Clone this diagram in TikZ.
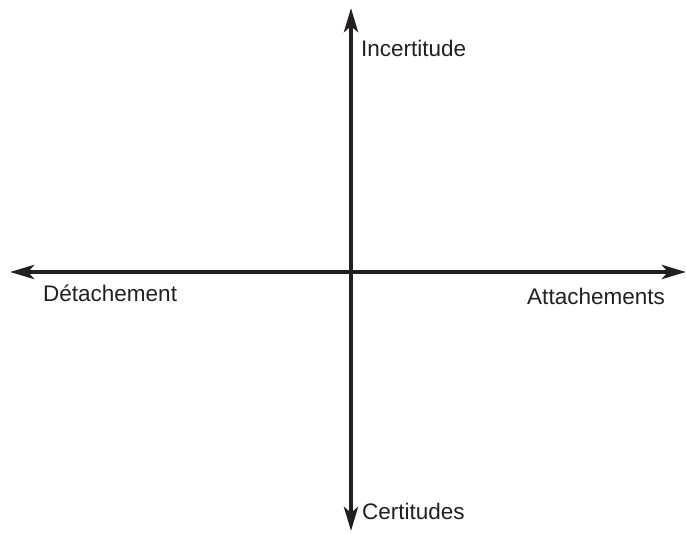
\documentclass[tikz,border=0pt]{standalone}
\usepackage{fontspec}
\setmainfont{Liberation Sans}
\usetikzlibrary{arrows.meta}
\definecolor{axisink}{HTML}{231F20}
\tikzset{
  axisline/.style={draw=axisink, line width=4.5pt, -{Stealth[length=24pt,width=14pt,inset=6pt]}},
  axislabel/.style={text=axisink, inner sep=0pt, font=\fontsize{22.5}{27}\selectfont}
}
\begin{document}
\begin{tikzpicture}[x=1pt,y=1pt]
    \useasboundingbox (0,0) rectangle (687,533);

    % Centre and axis ends
    \coordinate (centre) at (351,261);
    \coordinate (left) at (10,261);
    \coordinate (right) at (686,261);
    \coordinate (top) at (351,525);
    \coordinate (bottom) at (351,2);

    % Axes
    \draw[axisline] (centre) -- (left);
    \draw[axisline] (centre) -- (right);
    \draw[axisline] (centre) -- (top);
    \draw[axisline] (centre) -- (bottom);

    % Labels
    \node[axislabel, anchor=base west] (incertitude) at (361,476) {Incertitude};
    \node[axislabel, anchor=base west] (certitudes) at (362,14) {Certitudes};
    \node[axislabel, anchor=base west] (detachement) at (43,232) {Détachement};
    \node[axislabel, anchor=base east] (attachements) at (665,228) {Attachements};
\end{tikzpicture}
\end{document}
